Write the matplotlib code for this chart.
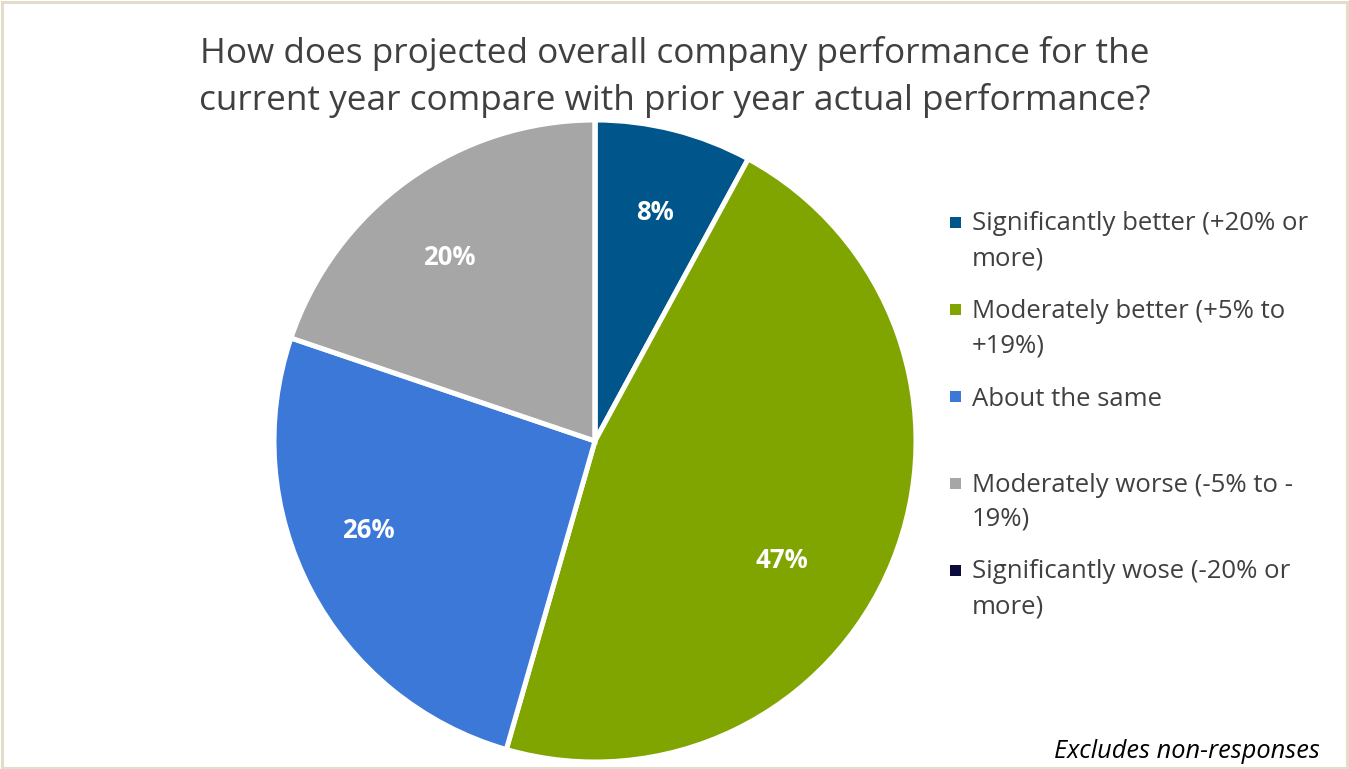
import math
import matplotlib
matplotlib.use("Agg")
import matplotlib.pyplot as plt
from matplotlib.patches import Rectangle

plt.rcParams['font.family'] = ['Open Sans', 'DejaVu Sans']

categories = [
    "Significantly better (+20% or\nmore)",
    "Moderately better (+5% to\n+19%)",
    "About the same",
    "Moderately worse (-5% to -\n19%)",
    "Significantly wose (-20% or\nmore)",
]
values = [8, 47, 26, 20, 0]
colors = ["#00558A", "#80A500", "#3C78D8", "#A6A6A6", "#0A0A3C"]

title = ("How does projected overall company performance for the\n"
         "current year compare with prior year actual performance?")
footnote = "Excludes non-responses"

# label placement: radial fraction and angular nudge (deg, clockwise)
label_radius = [0.735, 0.69, 0.76, 0.73, 0.7]
label_nudge = [0.4, 10.4, 6.1, -2.8, 0]

W, H = 1349, 769
fig = plt.figure(figsize=(W / 100, H / 100), dpi=100)
fig.patch.set_facecolor("white")

# outer frame
fig.patches.append(Rectangle((2 / W, 1 / H), (W - 4) / W, (H - 3) / H,
                             transform=fig.transFigure, fill=False,
                             edgecolor="#E3DCCB", linewidth=2.2))

cx, cy, r = 595, 441, 321
ax = fig.add_axes([(cx - r) / W, (H - cy - r) / H, 2 * r / W, 2 * r / H])
total = sum(values)


def fmt(p):
    v = p * total / 100
    return f"{v:.0f}%" if v >= 0.5 else ""


wedges, _, autotexts = ax.pie(
    values, colors=colors, startangle=90, counterclock=False,
    autopct=fmt, pctdistance=0.72,
    wedgeprops=dict(edgecolor="white", linewidth=3.6),
    textprops=dict(color="white", fontsize=18.5, fontweight="bold"),
)
for w, t, rad, nud in zip(wedges, autotexts, label_radius, label_nudge):
    w.set_clip_on(False)
    mid = 0.5 * (w.theta1 + w.theta2) - nud
    t.set_position((rad * math.cos(math.radians(mid)),
                    rad * math.sin(math.radians(mid))))
ax.set_xlim(-1, 1)
ax.set_ylim(-1, 1)
ax.set_aspect("equal")
ax.axis("off")

fig.text(0.5, 1 - 77 / H, title, ha="center", va="center", fontsize=25.3,
         color="#404040", linespacing=1.42)

# legend
lx, tx, y0, step = 950, 972, 222, 87
for i, (lab, col) in enumerate(zip(categories, colors)):
    y = y0 + i * step
    fig.patches.append(Rectangle((lx / W, 1 - (y + 6) / H), 11 / W, 11 / H,
                                 transform=fig.transFigure, facecolor=col,
                                 edgecolor="none"))
    extra = 11.5 * (lab.count("\n"))
    fig.text(tx / W, 1 - (y + extra) / H, lab, ha="left",
             va="center_baseline", fontsize=18.5, color="#404040",
             linespacing=1.5)

fig.text(1320 / W, 1 - 751 / H, footnote, ha="right", va="center",
         fontsize=18.3, style="italic", color="#000000")

fig.savefig("out.png", dpi=100)
